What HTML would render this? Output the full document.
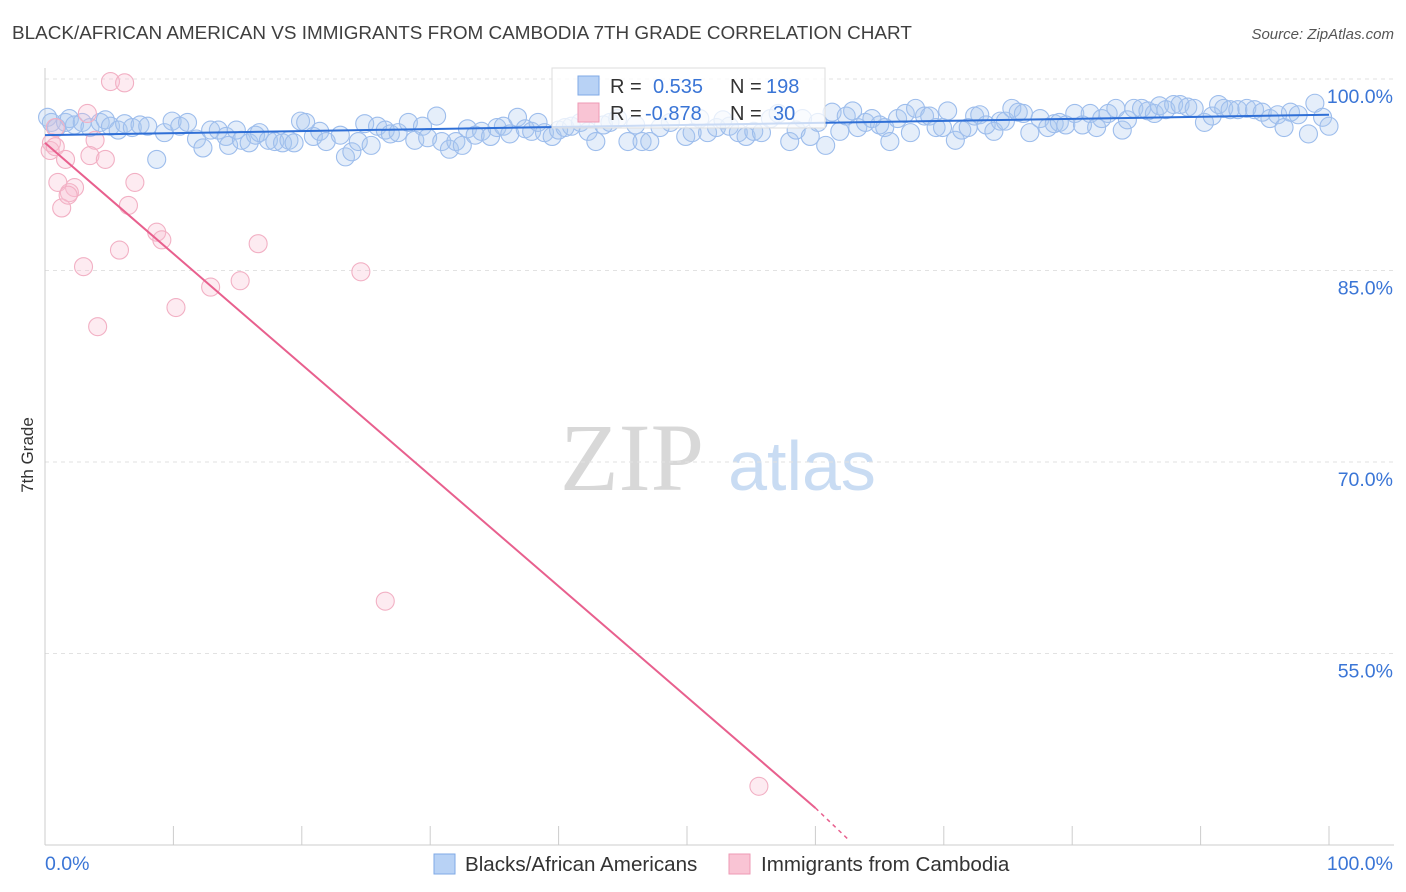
<!DOCTYPE html>
<html><head><meta charset="utf-8"><style>
body{margin:0;background:#fff;font-family:"Liberation Sans",sans-serif}
svg{display:block}
</style></head><body>
<svg id="chart" width="1406" height="892" viewBox="0 0 1406 892">
<text x="12" y="39" font-size="18.9" fill="#3f3f3f">BLACK/AFRICAN AMERICAN VS IMMIGRANTS FROM CAMBODIA 7TH GRADE CORRELATION CHART</text>
<text x="1394" y="39" font-size="15" fill="#555" font-style="italic" text-anchor="end">Source: ZipAtlas.com</text>
<text x="0" y="0" transform="translate(33,455) rotate(-90)" font-size="17" fill="#333" text-anchor="middle">7th Grade</text>
<g>
<text x="632" y="490" font-family="Liberation Serif,serif" font-size="96" fill="#d8d8d8" text-anchor="middle">ZIP</text>
<text x="802" y="490" font-size="70" fill="#c9dcf3" text-anchor="middle">atlas</text>
</g>
<g id="grid"></g>
<g id="axes"></g>
<g id="pts"></g>
<g id="trend"></g>
<g>
<rect x="552" y="68" width="273" height="60" fill="#fff" fill-opacity="0.75" stroke="#ddd"/>
<rect x="578" y="76" width="21" height="19" fill="#b8d2f5" stroke="#7fa9e6"/>
<text x="610" y="93" font-size="20" fill="#333">R =</text>
<text x="653" y="93" font-size="20" fill="#3a75d6">0.535</text>
<text x="730" y="93" font-size="20" fill="#333">N =</text>
<text x="766" y="93" font-size="20" fill="#3a75d6">198</text>
<rect x="578" y="103" width="21" height="19" fill="#f9c4d4" stroke="#ee9ab5"/>
<text x="610" y="120" font-size="20" fill="#333">R =</text>
<text x="645" y="120" font-size="20" fill="#3a75d6">-0.878</text>
<text x="730" y="120" font-size="20" fill="#333">N =</text>
<text x="773" y="120" font-size="20" fill="#3a75d6">30</text>
</g>
<g>
<rect x="434" y="854" width="21" height="20" fill="#b8d2f5" stroke="#7fa9e6"/>
<text x="465" y="871" font-size="20.6" fill="#333">Blacks/African Americans</text>
<rect x="729" y="854" width="21" height="20" fill="#f9c4d4" stroke="#ee9ab5"/>
<text x="761" y="871" font-size="20.6" fill="#333">Immigrants from Cambodia</text>
</g>
</svg>
<script>
const yTicks=[100,85,70,55];
const yTickLabels=["100.0%","85.0%","70.0%","55.0%"];
const xTicks=[0,10,20,30,40,50,60,70,80,90,100];
const blueX=[0.2,0.5,0.9,1.6,1.9,2.3,2.9,3.5,4.3,4.7,5.1,5.7,6.2,6.8,7.4,8.0,8.7,9.3,9.9,10.5,11.1,11.8,12.3,12.9,13.5,14.1,14.3,14.9,15.3,15.9,16.4,16.7,17.4,17.9,18.5,19.0,19.4,19.9,20.3,20.9,21.4,21.9,23.0,23.4,23.9,24.4,24.9,25.4,25.9,26.5,26.9,27.5,28.3,28.8,29.4,29.8,30.5,30.9,31.5,32.0,32.5,32.9,33.5,34.0,34.7,35.2,35.7,36.2,36.8,37.4,37.9,38.4,38.9,39.5,40.0,40.5,41.0,41.7,42.3,42.9,43.5,44.0,44.6,45.4,46.0,46.5,47.1,47.9,48.7,49.9,50.4,51.0,51.6,52.3,52.8,53.3,54.0,54.6,55.2,55.8,56.5,57.1,58.0,58.5,59.0,59.6,60.2,60.8,61.3,61.9,62.4,62.9,63.3,63.9,64.4,65.0,65.4,65.8,66.4,67.0,67.4,67.8,68.5,68.9,69.4,69.9,70.3,70.9,71.4,71.9,72.4,72.8,73.3,73.9,74.4,74.8,75.3,75.8,76.2,76.7,77.5,78.1,78.6,79.0,79.5,80.2,80.8,81.4,81.9,82.3,82.8,83.4,83.9,84.3,84.8,85.4,85.9,86.4,86.8,87.3,87.9,88.4,89.0,89.5,90.3,90.9,91.4,91.8,92.3,92.9,93.6,94.2,94.8,95.4,96.0,96.5,97.0,97.6,98.4,98.9,99.5,100.0];
const blueY=[97.0,96.6,96.2,96.6,96.9,96.4,96.6,96.2,96.6,96.8,96.3,96.0,96.5,96.2,96.4,96.3,93.7,95.8,96.7,96.3,96.6,95.3,94.6,96.0,96.0,95.5,94.8,96.0,95.2,95.0,95.6,95.8,95.2,95.1,95.0,95.2,95.0,96.7,96.6,95.5,95.9,95.1,95.6,93.9,94.3,95.1,96.5,94.8,96.3,96.0,95.7,95.8,96.6,95.2,96.3,95.4,97.1,95.1,94.5,95.1,94.8,96.1,95.6,95.9,95.5,96.2,96.3,95.7,97.0,96.1,95.9,96.6,95.8,95.5,96.0,96.2,96.3,96.6,95.9,95.1,96.4,96.6,96.9,95.1,96.4,95.1,95.1,96.2,96.6,95.5,95.8,96.9,95.8,96.2,96.8,96.3,95.8,95.5,95.9,95.8,96.9,97.3,95.1,96.0,96.9,95.5,96.6,94.8,97.4,95.9,97.1,97.5,96.2,96.6,96.9,96.4,96.2,95.1,96.9,97.3,95.8,97.7,97.1,97.1,96.2,96.2,97.5,95.2,96.0,96.2,97.1,97.2,96.4,95.9,96.7,96.7,97.7,97.4,97.3,95.8,96.9,96.2,96.5,96.6,96.4,97.3,96.4,97.3,96.2,96.9,97.3,97.7,96.0,96.8,97.7,97.7,97.5,97.3,97.9,97.6,98.0,98.0,97.8,97.7,96.6,97.1,98.0,97.7,97.6,97.6,97.7,97.6,97.4,96.9,97.2,96.2,97.4,97.2,95.7,98.1,97.0,96.3];
const pinkX=[5.1,6.2,3.3,0.8,0.5,0.4,0.8,1.6,3.9,3.5,4.7,1.0,1.3,2.3,1.9,1.8,7.0,6.5,8.7,9.1,5.8,3.0,16.6,15.2,12.9,10.2,4.1,24.6,26.5,55.6];
const pinkY=[99.8,99.7,97.3,96.2,95.0,94.4,94.7,93.7,95.2,94.0,93.7,91.9,89.9,91.5,91.1,90.9,91.9,90.1,88.0,87.4,86.6,85.3,87.1,84.2,83.7,82.1,80.6,84.9,59.1,44.6];
const blueTrend=[95.6,97.2];
const pinkTrend=[95.0,42.9,40.3];
const pinkTrendX=[0,60,62.7];

const X0=45,X1=1329,Y0=79,YB=845;
const sx=v=>X0+(X1-X0)*v/100;
const sy=v=>Y0+(100-v)*(YB-Y0)/60;
const NS="http://www.w3.org/2000/svg";
function mk(tag,attrs,parent){const e=document.createElementNS(NS,tag);for(const k in attrs)e.setAttribute(k,attrs[k]);parent.appendChild(e);return e;}
const grid=document.getElementById('grid'),axes=document.getElementById('axes'),pts=document.getElementById('pts'),tr=document.getElementById('trend');
yTicks.forEach((t,i)=>{
 const l=mk('line',{x1:X0,x2:1394,y1:sy(t),y2:sy(t),stroke:'#e2e2e2','stroke-dasharray':'4,4'},grid);
 
 
 const tx=mk('text',{x:1393,y:sy(t)+24,'font-size':19.5,fill:'#3a75d6','text-anchor':'end'},axes);
 tx.textContent=yTickLabels[i];
 
 
});
const ax=mk('line',{x1:X0,x2:1394,y1:YB,y2:YB,stroke:'#ccc'},axes);


const ay=mk('line',{x1:X0,x2:X0,y1:68,y2:YB,stroke:'#ccc'},axes);


xTicks.forEach(t=>{
 const l=mk('line',{x1:sx(t),x2:sx(t),y1:826,y2:YB,stroke:'#ccc'},axes);
 
 
});
const xl0=mk('text',{x:45,y:870,'font-size':19.5,fill:'#3a75d6'},axes);xl0.textContent='0.0%';


const xl1=mk('text',{x:1393,y:870,'font-size':19.5,fill:'#3a75d6','text-anchor':'end'},axes);xl1.textContent='100.0%';


blueX.forEach((x,i)=>{
 const c=mk('circle',{cx:sx(x),cy:sy(blueY[i]),r:9,fill:'rgba(170,200,240,0.3)',stroke:'#9dbdec','stroke-width':1.1},pts);
 
 
});
pinkX.forEach((x,i)=>{
 const c=mk('circle',{cx:sx(x),cy:sy(pinkY[i]),r:9,fill:'rgba(248,190,210,0.3)',stroke:'#f2b0c4','stroke-width':1.1},pts);
 
 
});
const bt=mk('line',{x1:sx(0),y1:sy(blueTrend[0]),x2:sx(100),y2:sy(blueTrend[1]),stroke:'#2f6fd6','stroke-width':2},tr);


const pt=mk('line',{x1:sx(pinkTrendX[0]),y1:sy(pinkTrend[0]),x2:sx(pinkTrendX[1]),y2:sy(pinkTrend[1]),stroke:'#e8608e','stroke-width':2},tr);


const pd=mk('line',{x1:sx(pinkTrendX[1]),y1:sy(pinkTrend[1]),x2:sx(pinkTrendX[2]),y2:sy(pinkTrend[2]),stroke:'#e8608e','stroke-width':1.5,'stroke-dasharray':'4,4'},tr);


</script>
</body></html>
